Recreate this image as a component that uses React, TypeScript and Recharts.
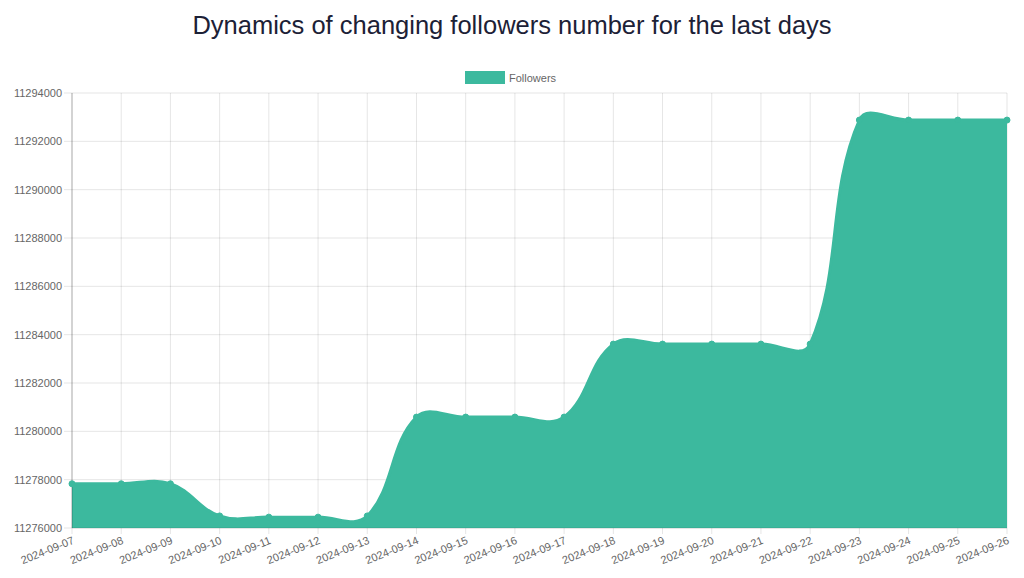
import React from 'react';
import {
  AreaChart,
  Area,
  XAxis,
  YAxis,
  CartesianGrid,
} from 'recharts';

const DATES = [
  '2024-09-07', '2024-09-08', '2024-09-09', '2024-09-10', '2024-09-11',
  '2024-09-12', '2024-09-13', '2024-09-14', '2024-09-15', '2024-09-16',
  '2024-09-17', '2024-09-18', '2024-09-19', '2024-09-20', '2024-09-21',
  '2024-09-22', '2024-09-23', '2024-09-24', '2024-09-25', '2024-09-26',
];

const FOLLOWERS = [
  11277830, 11277830, 11277830, 11276500, 11276450,
  11276450, 11276500, 11280590, 11280590, 11280590,
  11280590, 11283610, 11283610, 11283610, 11283610,
  11283610, 11292880, 11292880, 11292880, 11292880,
];

const Y_TICKS = [
  11276000, 11278000, 11280000, 11282000, 11284000,
  11286000, 11288000, 11290000, 11292000, 11294000,
];

const COLOR = '#3cb99e';
const FONT = '"Liberation Sans", Arial, Helvetica, sans-serif';

// chart.js style spline (tension 0.4) as a d3 curve factory
function splineCurve(context: any) {
  let pts: [number, number][] = [];
  let line = NaN;
  const t = 0.4;
  return {
    areaStart() { line = 0; },
    areaEnd() { line = NaN; },
    lineStart() { pts = []; },
    point(x: number, y: number) { pts.push([+x, +y]); },
    lineEnd() {
      const n = pts.length;
      if (n) {
        if (line) context.lineTo(pts[0][0], pts[0][1]);
        else context.moveTo(pts[0][0], pts[0][1]);
        const cps = pts.map((cur, i) => {
          const prev = pts[i - 1] || cur;
          const next = pts[i + 1] || cur;
          const d01 = Math.hypot(cur[0] - prev[0], cur[1] - prev[1]);
          const d12 = Math.hypot(next[0] - cur[0], next[1] - cur[1]);
          let s01 = d01 / (d01 + d12);
          let s12 = d12 / (d01 + d12);
          if (isNaN(s01)) s01 = 0;
          if (isNaN(s12)) s12 = 0;
          const fa = t * s01;
          const fb = t * s12;
          return {
            prev: [cur[0] - fa * (next[0] - prev[0]), cur[1] - fa * (next[1] - prev[1])],
            next: [cur[0] + fb * (next[0] - prev[0]), cur[1] + fb * (next[1] - prev[1])],
          };
        });
        for (let i = 1; i < n; i++) {
          const a = cps[i - 1].next;
          const b = cps[i].prev;
          context.bezierCurveTo(a[0], a[1], b[0], b[1], pts[i][0], pts[i][1]);
        }
      }
      if (line || (line !== 0 && n === 1)) context.closePath();
      line = 1 - line;
    },
  };
}

const data = DATES.map((date, i) => ({ date, followers: FOLLOWERS[i] }));

export default function App() {
  return (
    <div style={{ position: 'absolute', left: 0, top: 0, width: 1024, height: 578, background: '#fff' }}>
      <div
        style={{
          position: 'absolute',
          top: 11,
          left: 0,
          width: 1024,
          textAlign: 'center',
          fontFamily: FONT,
          fontSize: 25.5,
          color: '#1c2136',
        }}
      >
        Dynamics of changing followers number for the last days
      </div>
      <div
        style={{
          position: 'absolute',
          top: 71,
          left: 465,
          display: 'flex',
          alignItems: 'center',
          fontFamily: FONT,
          fontSize: 11,
          color: '#666',
        }}
      >
        <span style={{ width: 40, height: 13, background: COLOR, display: 'inline-block', marginRight: 4 }} />
        Followers
      </div>
      <AreaChart
        width={1024}
        height={578}
        data={data}
        margin={{ top: 93, right: 17, bottom: 0, left: 0 }}
      >
        <CartesianGrid stroke="rgba(0,0,0,0.1)" />
        <XAxis
          dataKey="date"
          height={50}
          interval={0}
          tickSize={6}
          tickMargin={2}
          angle={-22}
          textAnchor="end"
          tick={{ fontSize: 11, fill: '#666', fontFamily: FONT }}
          axisLine={{ stroke: 'rgba(0,0,0,0.1)' }}
          tickLine={{ stroke: 'rgba(0,0,0,0.1)' }}
        />
        <YAxis
          width={72}
          domain={[11276000, 11294000]}
          ticks={Y_TICKS}
          interval={0}
          tickSize={8}
          tickMargin={2}
          tick={{ fontSize: 11, fill: '#666', fontFamily: FONT }}
          axisLine={{ stroke: 'rgba(0,0,0,0.25)' }}
          tickLine={{ stroke: 'rgba(0,0,0,0.1)' }}
        />
        <Area
          dataKey="followers"
          type={splineCurve as any}
          stroke={COLOR}
          strokeWidth={3}
          fill={COLOR}
          fillOpacity={1}
          dot={{ r: 3, fill: COLOR, stroke: COLOR, strokeWidth: 1 }}
          activeDot={false}
          isAnimationActive={false}
        />
      </AreaChart>
    </div>
  );
}
